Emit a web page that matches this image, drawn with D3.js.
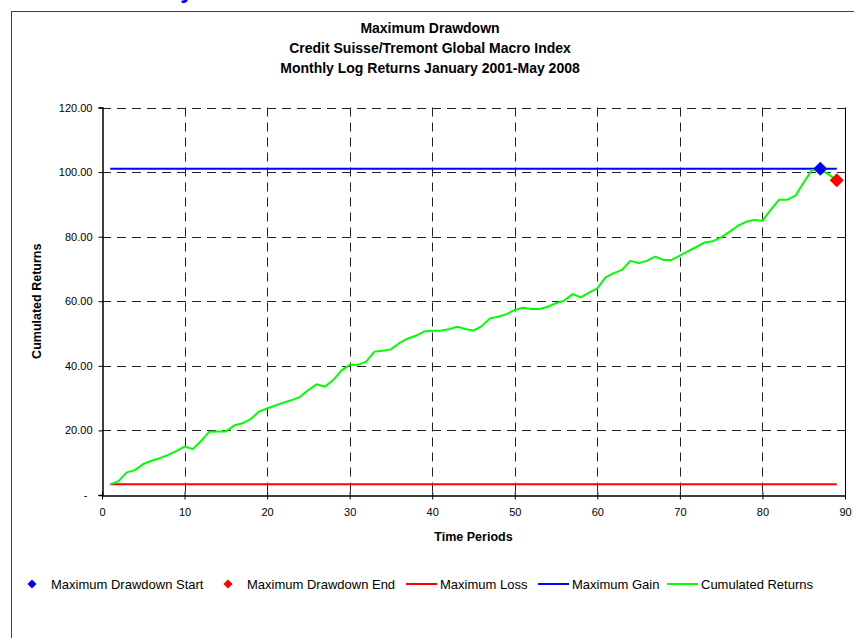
<!DOCTYPE html>
<html>
<head>
<meta charset="utf-8">
<script src="https://cdn.jsdelivr.net/npm/d3@7"></script>
<style>
    body { margin: 0; background: #fff; }
    svg { display: block; font-family: Arial, "Liberation Sans", sans-serif; }
</style>
</head>
<body>
<div id="chart"></div>
<script>
////////// DATA //////////

// cumulated log returns, one value per month (period 1 = Jan 2001 ... period 89 = May 2008)
var cumulated_returns = [
    3.3, 4.3, 7.0, 7.7, 9.6, 10.6, 11.4, 12.4, 13.6, 15.0,
    14.2, 16.7, 19.6, 19.7, 19.7, 21.5, 22.2, 23.5, 25.8, 26.8,
    27.7, 28.6, 29.4, 30.4, 32.5, 34.3, 33.5, 35.6, 38.5, 40.3,
    40.3, 41.3, 44.4, 44.7, 45.1, 47.0, 48.4, 49.3, 50.6, 50.9,
    50.9, 51.3, 52.1, 51.4, 50.9, 52.3, 54.7, 55.2, 56.0, 57.3,
    58.0, 57.6, 57.6, 58.3, 59.4, 60.2, 62.2, 61.2, 62.7, 64.0,
    67.4, 68.7, 69.7, 72.5, 71.8, 72.5, 73.8, 72.8, 72.8, 74.1,
    75.5, 76.8, 78.2, 78.6, 79.8, 81.5, 83.3, 84.6, 85.2, 84.9,
    88.3, 91.4, 91.4, 92.7, 96.8, 100.6, 101.0, 99.3, 97.5
];

var max_loss = 3.3;         // red line
var max_gain = 101.0;       // blue line
var drawdown_start = [87, 101.0];
var drawdown_end = [89, 97.5];

var x_ticks = [0, 10, 20, 30, 40, 50, 60, 70, 80, 90];
var y_ticks = [0, 20, 40, 60, 80, 100, 120];

var title_lines = [
    "Maximum Drawdown",
    "Credit Suisse/Tremont Global Macro Index",
    "Monthly Log Returns January 2001-May 2008"
];

var legend_items = [
    {label: "Maximum Drawdown Start", color: "#0000ff", kind: "diamond"},
    {label: "Maximum Drawdown End", color: "#ff0000", kind: "diamond"},
    {label: "Maximum Loss", color: "#ff0000", kind: "line"},
    {label: "Maximum Gain", color: "#0000ff", kind: "line"},
    {label: "Cumulated Returns", color: "#00ff00", kind: "line"}
];

////////// DRAWING //////////

var width = 854, height = 638;
var plot = {left: 102, right: 845, top: 107.5, bottom: 495};

var svg = d3.select("#chart").append("svg")
    .attr("width", width)
    .attr("height", height);

// cut-off heading of the sheet above the chart (only the bottom of it shows)
svg.append("text")
    .attr("x", 147).attr("y", -2)
    .attr("fill", "#0000ff")
    .style("font-size", "24px").style("font-weight", "bold")
    .text("May 2008");

// chart frame
svg.append("rect")
    .attr("x", 11.5).attr("y", 11.5)
    .attr("width", 900).attr("height", 700)
    .attr("fill", "#fff")
    .attr("stroke", "#404040")
    .attr("stroke-width", 1);

var x = d3.scaleLinear().domain([0, 90]).range([plot.left, plot.right]);
var y = d3.scaleLinear().domain([0, 120]).range([plot.bottom, plot.top]);

// titles
svg.append("g").selectAll("text")
    .data(title_lines)
    .enter().append("text")
    .attr("x", 430)
    .attr("y", (d, i) => 33 + i * 20)
    .attr("text-anchor", "middle")
    .style("font-size", "14px").style("font-weight", "bold")
    .text(d => d);

// grid lines
var grid = svg.append("g")
    .attr("stroke", "#222")
    .attr("stroke-width", 1)
    .attr("stroke-dasharray", "9,6");

grid.selectAll("line.h")
    .data(y_ticks.filter(d => d > 0))
    .enter().append("line")
    .attr("x1", plot.left).attr("x2", plot.right)
    .attr("y1", d => Math.round(y(d)) + 0.5)
    .attr("y2", d => Math.round(y(d)) + 0.5);

grid.selectAll("line.v")
    .data(x_ticks.filter(d => d > 0 && d < 90))
    .enter().append("line")
    .attr("y1", plot.top).attr("y2", plot.bottom)
    .attr("x1", d => Math.round(x(d)) + 0.5)
    .attr("x2", d => Math.round(x(d)) + 0.5);

// right border of plot area
svg.append("line")
    .attr("x1", Math.round(x(90)) + 0.5).attr("x2", Math.round(x(90)) + 0.5)
    .attr("y1", plot.top).attr("y2", plot.bottom)
    .attr("stroke", "#000");

// y axis
var y_axis = svg.append("g")
    .attr("transform", "translate(" + (plot.left + 0.5) + ",0)")
    .call(d3.axisLeft(y)
        .tickValues(y_ticks)
        .tickSize(4)
        .tickPadding(6)
        .tickFormat(d => d === 0 ? "-" : d.toFixed(2)));
y_axis.select(".domain").attr("stroke", "#000").attr("stroke-width", 1.5);
y_axis.selectAll("text").style("font-size", "11px").attr("fill", "#000")
    .attr("font-family", null);
y_axis.selectAll(".tick text").filter(d => d === 0).attr("dx", -5);

// x axis, ticks cross the axis line
var x_axis = svg.append("g")
    .attr("transform", "translate(0," + (plot.bottom + 0.5) + ")")
    .call(d3.axisBottom(x)
        .tickValues(x_ticks)
        .tickSizeInner(4)
        .tickSizeOuter(0)
        .tickPadding(9));
x_axis.select(".domain").attr("stroke", "#000").attr("stroke-width", 1.5);
x_axis.selectAll(".tick line").attr("y1", -4);
x_axis.selectAll("text").style("font-size", "11px").attr("fill", "#000")
    .attr("font-family", null);

// axis titles
svg.append("text")
    .attr("x", (plot.left + plot.right) / 2).attr("y", 541)
    .attr("text-anchor", "middle")
    .style("font-size", "12.5px").style("font-weight", "bold")
    .text("Time Periods");

svg.append("text")
    .attr("transform", "translate(41," + ((plot.top + plot.bottom) / 2) + ") rotate(-90)")
    .attr("text-anchor", "middle")
    .style("font-size", "12.5px").style("font-weight", "bold")
    .text("Cumulated Returns");

// max loss / max gain lines, over the whole period range
var first_period = 1, last_period = cumulated_returns.length;

svg.append("line")
    .attr("x1", x(first_period)).attr("x2", x(last_period))
    .attr("y1", y(max_loss)).attr("y2", y(max_loss))
    .attr("stroke", "#ff0000").attr("stroke-width", 2);

svg.append("line")
    .attr("x1", x(first_period)).attr("x2", x(last_period))
    .attr("y1", y(max_gain)).attr("y2", y(max_gain))
    .attr("stroke", "#0000ff").attr("stroke-width", 2);

// cumulated returns
var line = d3.line()
    .x((d, i) => x(i + 1))
    .y(d => y(d));

svg.append("path")
    .datum(cumulated_returns)
    .attr("d", line)
    .attr("fill", "none")
    .attr("stroke", "#00ff00")
    .attr("stroke-width", 2)
    .attr("stroke-linejoin", "round");

/**
 * draws a diamond marker centered on cx, cy
 */
function diamond(g, cx, cy, r, color) {
    g.append("path")
        .attr("d", "M" + cx + "," + (cy - r) + "L" + (cx + r) + "," + cy +
            "L" + cx + "," + (cy + r) + "L" + (cx - r) + "," + cy + "Z")
        .attr("fill", color);
}

diamond(svg, x(drawdown_start[0]), y(drawdown_start[1]), 7, "#0000ff");
diamond(svg, x(drawdown_end[0]), y(drawdown_end[1]), 7, "#ff0000");

// legend
var legend_x = [32, 228, 406, 538, 667];
var legend = svg.append("g").style("font-size", "13px");
legend_items.forEach(function(item, i) {
    let lx = legend_x[i];
    let ly = 584;
    if (item.kind === "diamond") {
        diamond(legend, lx, ly, 4.5, item.color);
        legend.append("text")
            .attr("x", lx + 19).attr("y", ly + 4.5)
            .text(item.label);
    } else {
        legend.append("line")
            .attr("x1", lx).attr("x2", lx + 31)
            .attr("y1", ly).attr("y2", ly)
            .attr("stroke", item.color).attr("stroke-width", 2);
        legend.append("text")
            .attr("x", lx + 34).attr("y", ly + 4.5)
            .text(item.label);
    }
});
</script>
</body>
</html>
